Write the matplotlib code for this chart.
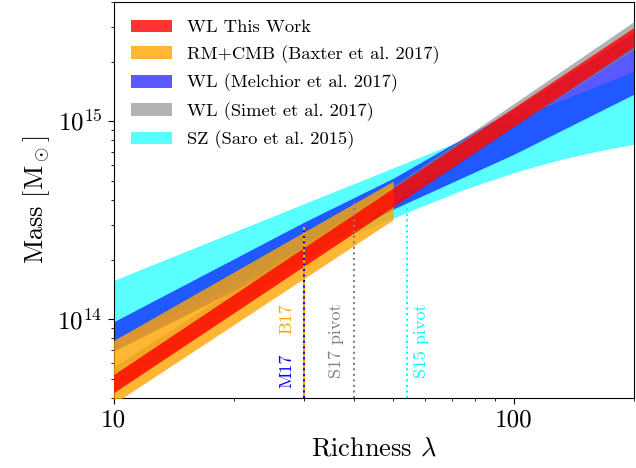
import numpy as np
import matplotlib
matplotlib.use('Agg')
import matplotlib.pyplot as plt
from matplotlib.ticker import NullFormatter, FixedLocator, FixedFormatter, LogLocator

plt.rcParams['font.family'] = 'serif'
plt.rcParams['font.serif'] = ['cmr10', 'DejaVu Serif']
plt.rcParams['mathtext.fontset'] = 'cm'
plt.rcParams['axes.formatter.use_mathtext'] = True

# ---------------- data ----------------
lam_red = [10, 200]
red_lo = [4.25e13, 2.38e15]
red_hi = [5.25e13, 2.98e15]

lam_orange = [10, 50]
orange_lo = [3.74e13, 3.18e14]
orange_hi = [7.8e13, 4.98e14]

lam_blue = [10, 30, 50, 100, 200]
blue_lo = [6.9e13, 2.1e14, 3.6e14, 6.8e14, 1.37e15]
blue_hi = [9.7e13, 3.1e14, 5.15e14, 1.15e15, 2.82e15]

lam_gray = [10, 40, 200]
gray_lo = [4.37e13, 2.92e14, 2.3e15]
gray_hi = [5.75e13, 3.46e14, 3.19e15]

lam_cyan = [10, 30, 55, 75, 103, 130, 150, 175, 200]
cyan_lo = [7.9e13, 2.1e14, 3.51e14, 4.52e14, 5.6e14, 6.38e14, 6.83e14, 7.28e14, 7.64e14]
cyan_hi = [1.57e14, 3.84e14, 6.28e14, 8.09e14, 1.047e15, 1.264e15, 1.42e15, 1.607e15, 1.79e15]

labels = ['WL This Work', 'RM+CMB (Baxter et al. 2017)', 'WL (Melchior et al. 2017)',
          'WL (Simet et al. 2017)', 'SZ (Saro et al. 2015)']

pivot_lam = [30, 30, 40, 54]
pivot_top = [2.9e14, 2.9e14, 4.0e14, 3.75e14]
pivot_text = ['M17', 'B17', 'S17 pivot', 'S15 pivot']

# ---------------- figure ----------------
fig = plt.figure(figsize=(6.36, 4.68), dpi=100)
ax = fig.add_axes([0.1786, 0.1496, 0.8183, 0.8461])
ax.set_xscale('log')
ax.set_yscale('log')

h_cyan = ax.fill_between(lam_cyan, cyan_lo, cyan_hi, color='cyan', alpha=0.65, lw=0, zorder=1)
h_blue = ax.fill_between(lam_blue, blue_lo, blue_hi, color='blue', alpha=0.65, lw=0, zorder=2)
h_gray = ax.fill_between(lam_gray, gray_lo, gray_hi, color='gray', alpha=0.6, lw=0, zorder=3)
h_orange = ax.fill_between(lam_orange, orange_lo, orange_hi, color='orange', alpha=0.8, lw=0, zorder=4)
h_red = ax.fill_between(lam_red, red_lo, red_hi, color='red', alpha=0.8, lw=0, zorder=5)

ymin = 4e13
ax.plot([pivot_lam[1], pivot_lam[1]], [ymin, pivot_top[1]], color='orange', ls='-', lw=1.5, zorder=6)
ax.plot([pivot_lam[0], pivot_lam[0]], [ymin, pivot_top[0]], color='blue', ls=':', lw=1.5, zorder=7)
ax.plot([pivot_lam[2], pivot_lam[2]], [ymin, pivot_top[2]], color='gray', ls=':', lw=1.5, zorder=7)
ax.plot([pivot_lam[3], pivot_lam[3]], [ymin, pivot_top[3]], color='cyan', ls=':', lw=1.5, zorder=7)

ax.text(27.1, 4.47e13, pivot_text[0], color='blue', rotation=90, ha='center', va='bottom', fontsize=13)
ax.text(27.1, 8.4e13, pivot_text[1], color='orange', rotation=90, ha='center', va='bottom', fontsize=13)
ax.text(36.1, 5.02e13, pivot_text[2], color='gray', rotation=90, ha='center', va='bottom', fontsize=13)
ax.text(58.9, 5.02e13, pivot_text[3], color='cyan', rotation=90, ha='center', va='bottom', fontsize=13)

ax.set_xlim(10, 200)
ax.set_ylim(4e13, 4e15)

ax.xaxis.set_major_locator(FixedLocator([10, 100]))
ax.xaxis.set_major_formatter(FixedFormatter(['10', '100']))
ax.xaxis.set_minor_locator(LogLocator(base=10, subs=np.arange(2, 10)))
ax.xaxis.set_minor_formatter(NullFormatter())
ax.yaxis.set_minor_formatter(NullFormatter())
ax.tick_params(which='major', length=4.5, width=0.8, labelsize=18, direction='out')
ax.tick_params(which='minor', length=2.5, width=0.6, direction='out')

ax.set_xlabel(r'Richness $\lambda$', fontsize=19)
ax.set_ylabel(r'Mass [M$_\odot$]', fontsize=19)

ax.legend([h_red, h_orange, h_blue, h_gray, h_cyan], labels, loc='upper left',
          frameon=False, fontsize=13.3, handlelength=2.2, labelspacing=0.53,
          borderaxespad=0.55)

fig.savefig('out.png', dpi=100)
